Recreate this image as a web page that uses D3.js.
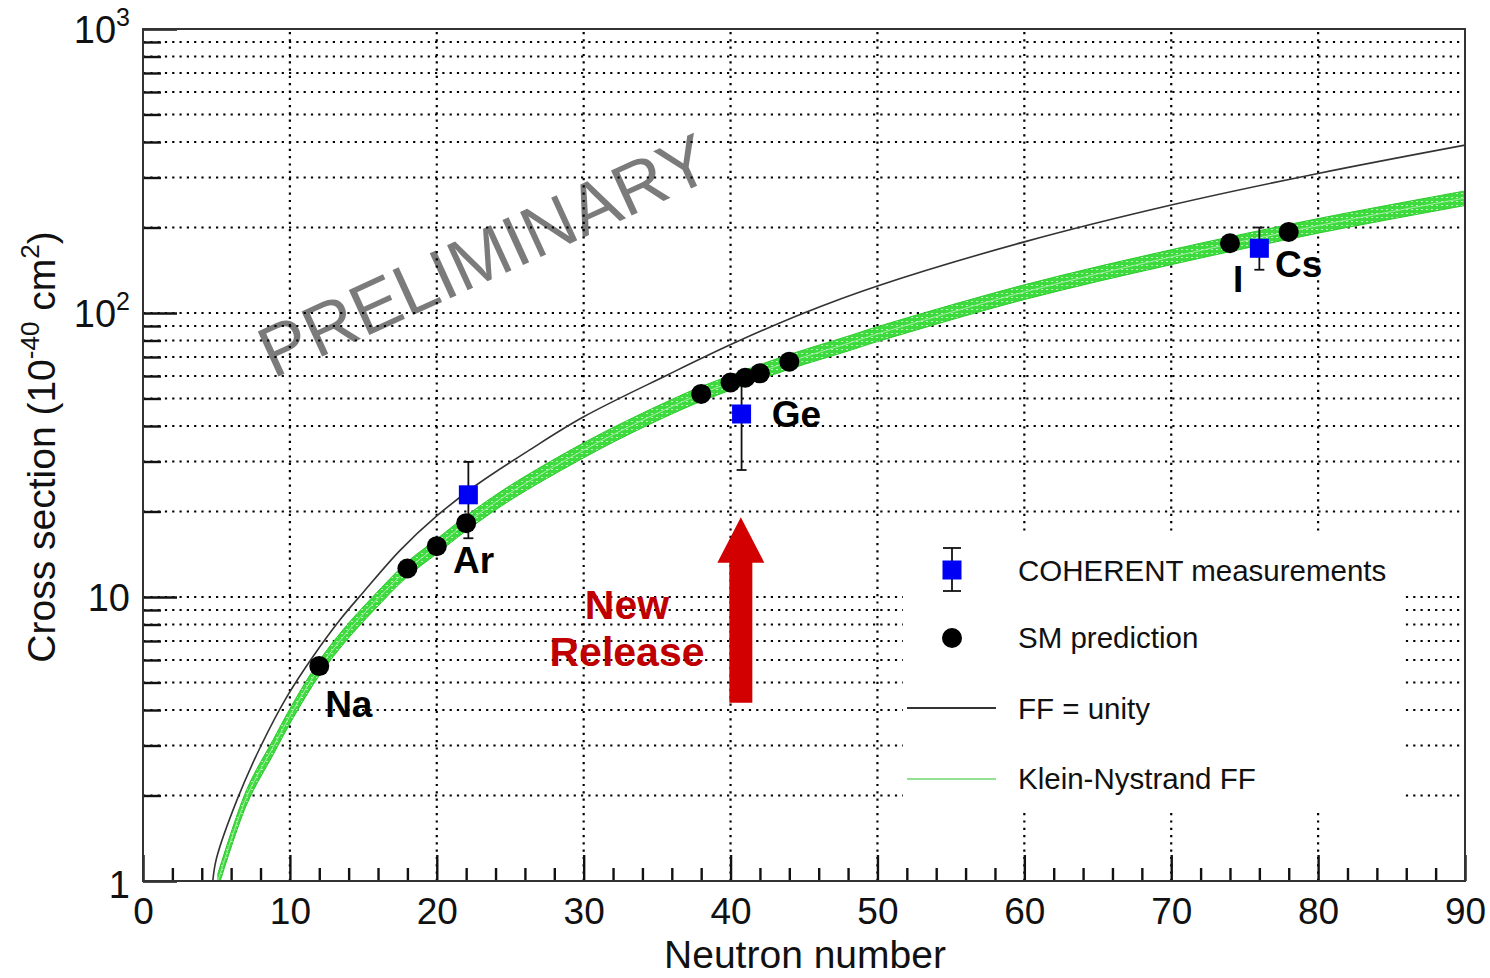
<!DOCTYPE html>
<html>
<head>
<meta charset="utf-8">
<script src="https://cdn.jsdelivr.net/npm/d3@7"></script>
<style>
body { margin: 0; background: #fff; }
text { font-family: "Liberation Sans", Arial, Helvetica, sans-serif; }
</style>
</head>
<body>
<svg id="chart"></svg>
<script>
// FF = unity curve
var unityN  = [4.75, 5.0, 6.4, 8.0, 9.8, 11.6, 13.4, 15, 17.5, 20, 22.7, 26.3, 30, 35.7, 40.2, 45, 50, 60, 70, 80, 90]
var unityXS = [1.0, 1.2, 1.93, 2.97, 4.46, 6.2, 8.3, 10.4, 14.6, 19.3, 24.8, 32.9, 43.1, 60.5, 78.2, 100, 124.5, 178, 240, 310, 390]

// Klein-Nystrand FF band: centre, lower and upper edge
var knN    = [5.1, 7.06, 8.87, 10.23, 12.05, 13.87, 15.68, 18, 20, 22, 25, 30, 33.4, 37.5, 40, 44, 48, 50, 60, 70, 80, 90]
var knXS   = [1.0, 1.98, 2.97, 4.0, 5.68, 7.5, 9.5, 12.5, 15.1, 18.2, 23.3, 32.9, 40.5, 50.7, 56.9, 67.4, 78.2, 84.4, 118.6, 157.5, 203, 254]
var knLow  = [0.94, 1.86, 2.79, 3.76, 5.34, 7.05, 8.93, 11.8, 14.2, 17.1, 21.9, 30.9, 38.1, 47.7, 53.5, 63.4, 73.5, 79.3, 111.5, 148, 191, 239]
var knHigh = [1.06, 2.10, 3.15, 4.24, 6.02, 7.95, 10.07, 13.3, 16.0, 19.3, 24.7, 34.9, 42.9, 53.7, 60.3, 71.4, 82.9, 89.5, 125.7, 167, 215, 269]

// SM prediction per isotope
var smN  = [12, 18, 20, 22, 38, 40, 41, 42, 44, 74, 78]
var smXS = [5.71, 12.6, 15.1, 18.2, 51.9, 56.9, 59.2, 61.3, 67.4, 176, 193]

// COHERENT measurements
var measN  = [22.15, 40.75, 76]
var measXS = [22.9, 44.1, 169]
var measLo = [16.1, 28, 142]
var measHi = [29.9, 60, 200]

// isotope labels (left edge / baseline in data units)
var labelText = ['Na', 'Ar', 'Ge', 'I', 'Cs']
var labelN    = [12.4, 21.1, 42.8, 74.2, 77.06]
var labelXS   = [3.78, 12.17, 39.8, 118.9, 134]

// "New Release" arrow (at the Ge measurement)
var arrowN = 40.7
var arrowXS = [4.24, 13.2, 19.1] // tail, head base, tip

var xTicks = d3.range(0, 91, 10)
var xMinor = d3.range(0, 91, 2).filter(function(d) { return d % 10 !== 0 })
var yMajor = [1, 10, 100, 1000]
var yMinor = []
;[1, 10, 100].forEach(function(p) { d3.range(2, 10).forEach(function(k) { yMinor.push(k * p) }) })

var W = 1490, H = 978
var svg = d3.select('#chart').attr('width', W).attr('height', H)
svg.append('rect').attr('width', W).attr('height', H).attr('fill', '#fff')

var x = d3.scaleLinear().domain([0, 90]).range([143, 1465])
var y = d3.scaleLog().domain([1, 1000]).range([881, 29])

var defs = svg.append('defs')
defs.append('clipPath').attr('id', 'plotclip')
  .append('rect').attr('x', 143).attr('y', 29).attr('width', 1322).attr('height', 852)
var pat = defs.append('pattern').attr('id', 'hatch')
  .attr('patternUnits', 'userSpaceOnUse').attr('width', 5).attr('height', 4)
pat.append('rect').attr('width', 5).attr('height', 4).attr('fill', '#3edb3e')
pat.append('rect').attr('x', 1).attr('y', 1).attr('width', 2).attr('height', 1).attr('fill', '#bdf3bd')

// watermark
svg.append('text')
  .attr('transform', 'translate(273,379) rotate(-24.5)')
  .attr('font-size', 72)
  .attr('fill', '#7b7b7b')
  .text('PRELIMINARY')

// grid
var grid = svg.append('g').attr('stroke', '#000').attr('stroke-width', 2.2)
  .attr('stroke-dasharray', '2.2,5.1')
grid.selectAll('.gx').data(xTicks.slice(1, -1)).enter().append('line')
  .attr('x1', function(d) { return x(d) }).attr('x2', function(d) { return x(d) })
  .attr('y1', 881).attr('y2', 29)
grid.selectAll('.gy').data(yMinor.concat([10, 100])).enter().append('line')
  .attr('x1', 143).attr('x2', 1465)
  .attr('y1', function(d) { return y(d) }).attr('y2', function(d) { return y(d) })

var plot = svg.append('g').attr('clip-path', 'url(#plotclip)')
var smooth = d3.curveCatmullRom.alpha(0.5)

// Klein-Nystrand band
var knRows = knN.map(function(n, i) { return { n: n, c: knXS[i], lo: knLow[i], hi: knHigh[i] } })
var band = d3.area()
  .x(function(d) { return x(d.n) })
  .y0(function(d) { return y(d.lo) })
  .y1(function(d) { return y(d.hi) })
  .curve(smooth)
plot.append('path').datum(knRows).attr('d', band)
  .attr('fill', 'url(#hatch)').attr('stroke', '#2bc92b').attr('stroke-width', 1)
plot.append('path').datum(knRows)
  .attr('d', d3.line().x(function(d) { return x(d.n) }).y(function(d) { return y(d.c) }).curve(smooth))
  .attr('fill', 'none').attr('stroke', '#a3eba3').attr('stroke-width', 1)

// FF = unity
var unityRows = unityN.map(function(n, i) { return { n: n, v: unityXS[i] } })
plot.append('path').datum(unityRows)
  .attr('d', d3.line().x(function(d) { return x(d.n) }).y(function(d) { return y(d.v) }).curve(smooth))
  .attr('fill', 'none').attr('stroke', '#333').attr('stroke-width', 1.6)

// measurements
var meas = measN.map(function(n, i) { return { n: n, v: measXS[i], lo: measLo[i], hi: measHi[i] } })
var mg = svg.append('g')
mg.selectAll('.eb').data(meas).enter().append('line')
  .attr('x1', function(d) { return x(d.n) }).attr('x2', function(d) { return x(d.n) })
  .attr('y1', function(d) { return y(d.lo) }).attr('y2', function(d) { return y(d.hi) })
  .attr('stroke', '#111').attr('stroke-width', 1.8)
;['lo', 'hi'].forEach(function(k) {
  mg.selectAll('.cap' + k).data(meas).enter().append('line')
    .attr('x1', function(d) { return x(d.n) - 5 }).attr('x2', function(d) { return x(d.n) + 5 })
    .attr('y1', function(d) { return y(d[k]) }).attr('y2', function(d) { return y(d[k]) })
    .attr('stroke', '#111').attr('stroke-width', 1.8)
})
mg.selectAll('.sq').data(meas).enter().append('rect')
  .attr('x', function(d) { return x(d.n) - 9.5 }).attr('y', function(d) { return y(d.v) - 9.5 })
  .attr('width', 19).attr('height', 19).attr('fill', '#0000f5')

// SM predictions
svg.append('g').selectAll('circle').data(smN).enter().append('circle')
  .attr('cx', function(d) { return x(d) })
  .attr('cy', function(d, i) { return y(smXS[i]) })
  .attr('r', 10).attr('fill', '#000')

// isotope labels
svg.append('g').selectAll('text').data(labelText).enter().append('text')
  .attr('x', function(d, i) { return x(labelN[i]) })
  .attr('y', function(d, i) { return y(labelXS[i]) })
  .attr('font-size', 37).attr('font-weight', 'bold').attr('fill', '#000')
  .text(function(d) { return d })

// New Release arrow
var ax = x(arrowN)
var arrowPts = [
  [ax - 11.5, y(arrowXS[0])], [ax - 11.5, y(arrowXS[1])], [ax - 23.5, y(arrowXS[1])],
  [ax, y(arrowXS[2])],
  [ax + 23.5, y(arrowXS[1])], [ax + 11.5, y(arrowXS[1])], [ax + 11.5, y(arrowXS[0])]
]
svg.append('path').attr('d', d3.line()(arrowPts) + 'Z').attr('fill', '#d20000')
var nr = svg.append('text').attr('text-anchor', 'middle').attr('font-size', 41)
  .attr('font-weight', 'bold').attr('fill', '#c00000')
nr.append('tspan').attr('x', 627).attr('y', 619).text('New')
nr.append('tspan').attr('x', 627).attr('y', 666).text('Release')

// legend
var lg = svg.append('g')
lg.append('rect').attr('x', 903).attr('y', 535).attr('width', 502).attr('height', 278).attr('fill', '#fff')
lg.append('line').attr('x1', 952).attr('x2', 952).attr('y1', 548).attr('y2', 591).attr('stroke', '#111').attr('stroke-width', 1.8)
lg.append('line').attr('x1', 943).attr('x2', 961).attr('y1', 548).attr('y2', 548).attr('stroke', '#111').attr('stroke-width', 1.8)
lg.append('line').attr('x1', 943).attr('x2', 961).attr('y1', 591).attr('y2', 591).attr('stroke', '#111').attr('stroke-width', 1.8)
lg.append('rect').attr('x', 942.5).attr('y', 560.5).attr('width', 19).attr('height', 19).attr('fill', '#0000f5')
lg.append('circle').attr('cx', 952).attr('cy', 638).attr('r', 10).attr('fill', '#000')
lg.append('line').attr('x1', 907).attr('x2', 996).attr('y1', 708).attr('y2', 708).attr('stroke', '#333').attr('stroke-width', 2)
lg.append('line').attr('x1', 907).attr('x2', 996).attr('y1', 779).attr('y2', 779).attr('stroke', '#6fd96f').attr('stroke-width', 1.6)
var legendText = ['COHERENT measurements', 'SM prediction', 'FF = unity', 'Klein-Nystrand FF']
lg.selectAll('.lt').data(legendText).enter().append('text')
  .attr('x', 1018).attr('y', function(d, i) { return [581, 648, 718.5, 789][i] })
  .attr('font-size', 29.5).attr('fill', '#111')
  .text(function(d) { return d })

// axes
var xAxisG = svg.append('g').attr('transform', 'translate(0,881)')
xAxisG.call(d3.axisBottom(x).tickValues(xTicks).tickSize(-26).tickPadding(17).tickFormat(d3.format('d')))
xAxisG.append('g').call(d3.axisBottom(x).tickValues(xMinor).tickSize(-13).tickFormat(''))
xAxisG.selectAll('.domain').remove()
xAxisG.selectAll('line').attr('stroke', '#111').attr('stroke-width', 2.4)
xAxisG.selectAll('text').attr('font-size', 37).attr('fill', '#111')
  .attr('font-family', '"Liberation Sans", Arial, sans-serif')

var yAxisG = svg.append('g').attr('transform', 'translate(143,0)')
yAxisG.call(d3.axisLeft(y).tickValues(yMajor).tickSize(-34).tickFormat(''))
yAxisG.append('g').call(d3.axisLeft(y).tickValues(yMinor).tickSize(-18).tickFormat(''))
yAxisG.selectAll('.domain').remove()
yAxisG.selectAll('line').attr('stroke', '#111').attr('stroke-width', 2.4)

var yl = svg.append('g').attr('font-size', 38).attr('fill', '#111').attr('text-anchor', 'end')
yMajor.forEach(function(v) {
  var p = Math.round(Math.log10(v))
  var t = yl.append('text').attr('x', 130).attr('y', y(v) + 14)
  if (p === 0) t.attr('y', y(v) + 17).text('1')
  else if (p === 1) t.text('10')
  else {
    t.append('tspan').text('10')
    t.append('tspan').attr('dy', -17).attr('font-size', 25).text(p)
  }
})

// frame
svg.append('rect').attr('x', 143).attr('y', 29).attr('width', 1322).attr('height', 852)
  .attr('fill', 'none').attr('stroke', '#333').attr('stroke-width', 2)

// axis titles
svg.append('text').attr('x', 805).attr('y', 968).attr('text-anchor', 'middle')
  .attr('font-size', 39).attr('fill', '#111').text('Neutron number')
var yt = svg.append('text').attr('transform', 'translate(55,447) rotate(-90)')
  .attr('text-anchor', 'middle').attr('font-size', 39).attr('fill', '#111')
yt.append('tspan').text('Cross section (10')
yt.append('tspan').attr('dy', -16).attr('font-size', 26).text('-40')
yt.append('tspan').attr('dy', 16).text(' cm')
yt.append('tspan').attr('dy', -16).attr('font-size', 26).text('2')
yt.append('tspan').attr('dy', 16).text(')')
</script>
</body>
</html>
